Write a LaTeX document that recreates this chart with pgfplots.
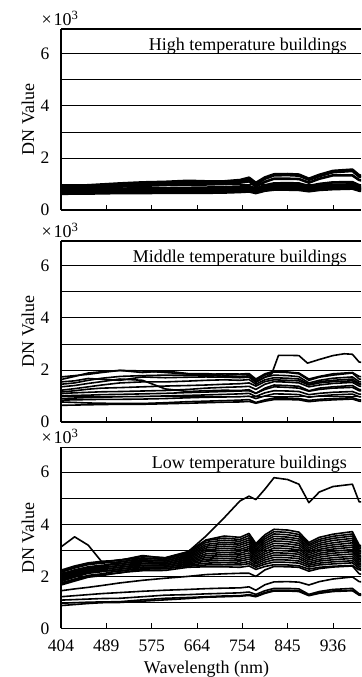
\documentclass[border=0pt]{standalone}
\usepackage{fontspec}
\setmainfont{Liberation Serif}
\usepackage{pgfplots}
\usepackage{pgfplotstable}
\pgfplotsset{compat=1.18}

% High temperature buildings (x = band position, 10 units per tick)
\pgfplotstableread{
x H1 H2 H3 H4 H5 H6 H7 H8
0 0.90 0.86 0.82 0.78 0.72 0.67 0.62 0.70
3 0.92 0.88 0.84 0.79 0.73 0.68 0.63 0.70
6 0.95 0.90 0.86 0.80 0.74 0.69 0.63 0.72
9 0.98 0.93 0.88 0.81 0.75 0.70 0.64 0.72
13 1.02 0.96 0.90 0.82 0.76 0.71 0.65 0.74
18 1.06 1.00 0.93 0.83 0.77 0.71 0.65 0.75
23 1.08 1.02 0.96 0.84 0.78 0.72 0.66 0.75
28 1.12 1.05 0.98 0.85 0.78 0.72 0.66 0.76
32 1.10 1.05 0.98 0.86 0.78 0.72 0.66 0.76
36 1.10 1.05 1.00 0.88 0.80 0.73 0.67 0.77
39.5 1.15 1.10 1.05 0.90 0.82 0.75 0.69 0.79
41.5 1.24 1.18 1.10 0.92 0.84 0.77 0.71 0.81
43 1.04 0.98 0.90 0.82 0.76 0.70 0.65 0.73
45 1.25 1.20 1.08 0.95 0.88 0.80 0.74 0.84
47 1.37 1.33 1.20 1.02 0.95 0.86 0.78 0.90
50 1.38 1.34 1.20 1.03 0.95 0.86 0.78 0.90
52.5 1.36 1.32 1.19 1.02 0.94 0.85 0.77 0.89
54.7 1.20 1.16 1.05 0.92 0.86 0.78 0.72 0.80
57 1.35 1.30 1.20 1.00 0.93 0.84 0.77 0.87
60 1.50 1.45 1.33 1.06 0.97 0.88 0.80 0.92
64.3 1.55 1.50 1.33 1.07 0.98 0.90 0.82 0.93
65.8 1.33 1.28 1.15 0.95 0.88 0.80 0.74 0.83
67 1.30 1.26 1.12 0.93 0.86 0.78 0.72 0.82
}\tabHigh

% Middle temperature buildings
\pgfplotstableread{
x P1 P2 P3 P4 P5 P6 P7 P8 P9 P10 P11 P12
0 1.63 1.73 1.54 1.35 1.22 1.09 1.00 0.90 0.84 0.77 0.64 1.15
3 1.75 1.78 1.58 1.40 1.28 1.12 1.02 0.92 0.85 0.75 0.65 1.20
6 1.88 1.83 1.67 1.48 1.35 1.14 1.03 0.94 0.86 0.73 0.66 1.26
9 1.93 1.90 1.64 1.55 1.42 1.16 1.05 0.95 0.87 0.72 0.67 1.30
13 1.98 1.98 1.60 1.65 1.50 1.17 1.06 0.97 0.87 0.71 0.68 1.32
18 1.96 1.90 1.73 1.60 1.54 1.19 1.08 0.98 0.88 0.71 0.68 1.35
23 1.90 1.96 1.70 1.27 1.54 1.21 1.10 1.00 0.90 0.74 0.70 1.38
28 1.84 1.86 1.72 1.17 1.57 1.25 1.13 1.02 0.93 0.78 0.72 1.40
32 1.83 1.86 1.73 1.20 1.60 1.30 1.15 1.04 0.95 0.80 0.74 1.42
36 1.85 1.80 1.72 1.22 1.62 1.33 1.17 1.06 0.96 0.82 0.76 1.45
39.5 1.84 1.82 1.70 1.21 1.60 1.35 1.19 1.08 0.97 0.84 0.77 1.47
41.5 1.86 1.83 1.72 1.24 1.63 1.37 1.20 1.10 0.99 0.86 0.79 1.50
43 1.65 1.60 1.52 1.10 1.45 1.25 1.10 0.98 0.90 0.75 0.72 1.38
45 1.85 1.80 1.72 1.30 1.62 1.45 1.25 1.12 1.00 0.85 0.80 1.55
47 1.95 1.92 1.80 1.42 1.70 1.55 1.35 1.20 1.08 0.92 0.86 1.62
50 1.92 1.90 1.78 1.40 1.68 1.53 1.33 1.19 1.07 0.92 0.86 1.60
52.5 1.88 1.85 1.74 1.37 1.65 1.50 1.30 1.17 1.05 0.90 0.85 1.58
54.7 1.65 1.60 1.50 1.20 1.45 1.35 1.18 1.05 0.95 0.83 0.78 1.42
57 1.75 1.72 1.60 1.30 1.55 1.42 1.25 1.10 1.00 0.87 0.82 1.50
60 1.85 1.80 1.68 1.35 1.60 1.48 1.30 1.14 1.04 0.90 0.85 1.55
64.3 1.90 1.88 1.73 1.40 1.65 1.52 1.33 1.17 1.07 0.93 0.88 1.58
65.8 1.75 1.65 1.55 1.25 1.48 1.38 1.20 1.07 0.97 0.85 0.80 1.45
67 1.72 1.62 1.52 1.22 1.45 1.35 1.18 1.05 0.95 0.83 0.78 1.42
}\tabMid

% Low temperature buildings
\pgfplotstableread{
x T b0 b1 b2 b3 b4 b5 b6 b7 b8 b9 b10 b11 b12 b13 b14 b15 La Lb Lc Ld Le
0 3.13 2.24 2.20 2.16 1.80 2.09 2.05 2.01 1.97 1.94 1.90 1.86 1.82 2.12 1.75 1.71 1.67 1.45 1.22 1.09 0.97 0.88
3 3.52 2.40 2.36 2.32 2.00 2.25 2.21 2.17 2.13 2.09 2.05 2.01 1.97 2.20 1.90 1.86 1.82 1.52 1.26 1.11 0.99 0.92
6 3.20 2.52 2.48 2.45 2.20 2.37 2.34 2.30 2.26 2.23 2.19 2.15 2.12 2.25 2.04 2.01 1.97 1.58 1.30 1.13 1.01 0.96
9 2.56 2.58 2.54 2.51 2.38 2.43 2.40 2.36 2.32 2.29 2.25 2.21 2.18 2.22 2.10 2.07 2.03 1.65 1.34 1.15 1.02 0.99
13 2.62 2.62 2.64 2.55 2.57 2.48 2.50 2.41 2.43 2.34 2.36 2.27 2.29 2.20 2.22 2.13 2.15 1.75 1.38 1.16 1.03 1.00
18 2.80 2.77 2.71 2.70 2.64 2.63 2.57 2.56 2.50 2.49 2.43 2.42 2.36 2.35 2.29 2.28 2.22 1.85 1.43 1.22 1.10 1.05
23 2.70 2.72 2.65 2.66 2.59 2.60 2.53 2.54 2.47 2.48 2.41 2.42 2.35 2.36 2.29 2.30 2.23 1.93 1.47 1.28 1.16 1.10
28 2.94 2.95 2.91 2.87 2.83 2.79 2.75 2.71 2.67 2.63 2.59 2.55 2.51 2.47 2.43 2.39 2.35 2.00 1.50 1.30 1.19 1.15
32 3.55 3.40 3.38 3.31 3.23 3.16 3.09 3.02 2.95 2.87 2.80 2.73 2.66 2.59 2.51 2.44 2.37 2.07 1.53 1.33 1.22 1.20
36 4.25 3.55 3.47 3.39 3.31 3.24 3.16 3.08 3.00 2.92 2.84 2.77 2.69 2.61 2.53 2.45 2.37 2.10 1.55 1.35 1.25 1.22
39.5 4.90 3.50 3.42 3.35 3.27 3.20 3.12 3.04 2.97 2.89 2.82 2.74 2.66 2.59 2.51 2.44 2.35 2.12 1.56 1.37 1.26 1.24
41.5 5.08 3.65 3.57 3.48 3.40 3.32 3.24 3.15 3.07 2.99 2.90 2.82 2.74 2.66 2.57 2.49 2.40 2.12 1.60 1.40 1.30 1.27
43 4.95 3.26 3.19 3.13 3.06 3.00 2.93 2.87 2.80 2.74 2.67 2.61 2.54 2.48 2.41 2.35 2.27 2.00 1.47 1.31 1.25 1.22
45 5.35 3.60 3.52 3.44 3.36 3.28 3.20 3.12 3.04 2.95 2.87 2.79 2.71 2.63 2.55 2.47 2.38 2.25 1.68 1.45 1.38 1.35
47 5.79 3.81 3.72 3.63 3.54 3.45 3.36 3.27 3.18 3.09 3.00 2.91 2.82 2.73 2.64 2.55 2.45 2.38 1.79 1.54 1.47 1.44
50 5.72 3.78 3.69 3.60 3.51 3.43 3.34 3.25 3.16 3.07 2.98 2.89 2.81 2.72 2.63 2.54 2.44 2.37 1.80 1.54 1.47 1.44
52.5 5.54 3.70 3.61 3.53 3.44 3.36 3.27 3.19 3.10 3.02 2.93 2.85 2.76 2.68 2.59 2.51 2.41 2.35 1.78 1.52 1.45 1.42
54.7 4.83 3.30 3.23 3.17 3.10 3.03 2.96 2.90 2.83 2.76 2.70 2.63 2.56 2.49 2.43 2.36 2.28 2.20 1.67 1.31 1.28 1.26
57 5.24 3.50 3.42 3.35 3.27 3.20 3.12 3.04 2.97 2.89 2.82 2.74 2.66 2.59 2.51 2.44 2.35 2.30 1.80 1.42 1.38 1.35
60 5.45 3.62 3.54 3.46 3.38 3.29 3.21 3.13 3.05 2.97 2.89 2.81 2.72 2.64 2.56 2.48 2.39 2.36 1.90 1.50 1.44 1.42
64.3 5.54 3.72 3.63 3.55 3.46 3.38 3.29 3.20 3.12 3.03 2.95 2.86 2.77 2.69 2.60 2.52 2.42 2.40 1.98 1.54 1.47 1.45
65.8 4.86 3.20 3.14 3.08 3.01 2.95 2.89 2.82 2.76 2.70 2.64 2.57 2.51 2.45 2.39 2.32 2.25 2.10 1.80 1.33 1.30 1.28
67 4.86 3.15 3.09 3.03 2.97 2.91 2.85 2.78 2.72 2.66 2.60 2.54 2.48 2.42 2.36 2.30 2.24 2.05 1.78 1.31 1.28 1.26
}\tabLow

\pgfplotsset{
  panel/.style={
    scale only axis, width=300bp, height=181bp,
    xmin=0, xmax=66.2, ymin=0, ymax=6.95,
    clip mode=individual,
    axis x line*=bottom, axis y line*=left,
    axis line style={line width=1.8bp, -},
    xtick={0,10,...,60}, ytick={0,2,4,6}, minor ytick={1,3,5},
    ymajorgrids, yminorgrids,
    major grid style={black, line width=0.7bp},
    minor grid style={black, line width=0.7bp},
    xtick align=inside,
    xtick style={black, line width=0.8bp},
    major tick length=5bp,
    ytick style={draw=none}, minor tick style={draw=none},
    xticklabels={},
    tick label style={font=\fontsize{17.5bp}{20bp}\selectfont},
    /pgf/number format/assume math mode=true,
    yticklabel style={xshift=-8bp},
    ylabel={DN Value},
    every axis y label/.style={at={(axis description cs:-0.077,0.5)}, rotate=90, anchor=south,
      font=\fontsize{18bp}{21bp}\selectfont},
    no markers,
    every axis plot post/.append style={black, solid, line width=1.6bp, line join=round, mark=none},
  },
}
\tikzset{
  ttl/.style={anchor=base east, font=\fontsize{18bp}{21bp}\selectfont, xshift=-14bp, yshift=-21.5bp, inner sep=0pt},
  scl/.style={anchor=base, font=\fontsize{18bp}{20bp}\selectfont, yshift=3.5bp, xshift=-1bp, inner sep=0pt},
}

\begin{document}
\begin{tikzpicture}[x=1bp,y=1bp]
\useasboundingbox (0,0) rectangle (361,677);

% ---- High temperature
\begin{axis}[panel, at={(61bp,467bp)}, anchor=south west,
  every axis plot post/.append style={line width=2.6bp}]
\pgfplotsinvokeforeach{1,...,8}{\addplot table[x index=0, y index=#1]{\tabHigh};}
\draw[line width=1.8bp] (rel axis cs:0,1) -- (rel axis cs:1,1);
\node[ttl] at (rel axis cs:1,1) {High temperature buildings};
\node[scl] at (rel axis cs:0,1) {×\hspace{2bp}10\textsuperscript{3}};
\end{axis}

% ---- Middle temperature
\begin{axis}[panel, at={(61bp,255bp)}, anchor=south west]
\pgfplotsinvokeforeach{1,...,12}{\addplot table[x index=0, y index=#1]{\tabMid};}
\addplot coordinates {(0,1.45) (3,1.5) (6,1.6) (9,1.68) (13,1.75) (18,1.78) (23,1.8) (28,1.8) (32,1.78) (36,1.76) (39.5,1.75) (41.5,1.77) (43,1.55) (45,1.72) (46.5,1.85) (48,2.56) (50,2.56) (52.5,2.55) (54.4,2.26) (57,2.4) (60,2.55) (62.5,2.62) (64.3,2.6) (65.8,2.3) (67,2.28)};
\draw[line width=1.8bp] (rel axis cs:0,1) -- (rel axis cs:1,1);
\node[ttl] at (rel axis cs:1,1) {Middle temperature buildings};
\node[scl] at (rel axis cs:0,1) {×\hspace{2bp}10\textsuperscript{3}};
\end{axis}

% ---- Low temperature
\begin{axis}[panel, at={(61bp,48.5bp)}, anchor=south west,
  xticklabels={404,489,575,664,754,845,936},
  xticklabel style={anchor=base, yshift=-23bp},
  xlabel={Wavelength (nm)},
  every axis x label/.style={at={(axis description cs:0.5,0)}, anchor=base, yshift=-44.5bp, xshift=-4.5bp,
    font=\fontsize{18bp}{21bp}\selectfont}]
\pgfplotsinvokeforeach{1,...,22}{\addplot table[x index=0, y index=#1]{\tabLow};}
\draw[line width=1.8bp] (rel axis cs:0,1) -- (rel axis cs:1,1);
\node[ttl] at (rel axis cs:1,1) {Low temperature buildings};
\node[scl] at (rel axis cs:0,1) {×\hspace{2bp}10\textsuperscript{3}};
\end{axis}
\end{tikzpicture}
\end{document}
